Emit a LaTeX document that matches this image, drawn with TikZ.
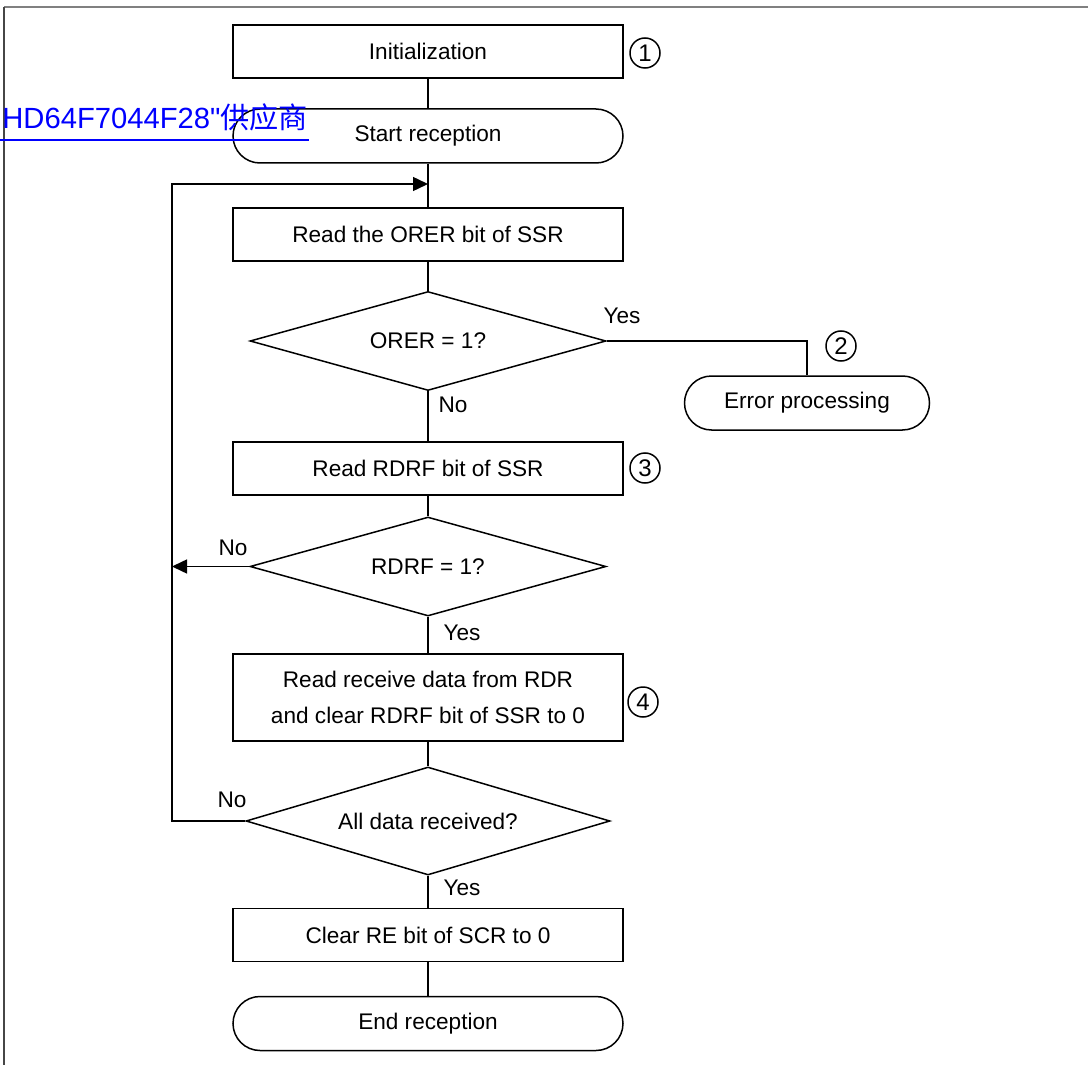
\documentclass[tikz,border=0pt]{standalone}
\usepackage{fontspec}
\setmainfont{Liberation Sans}
\newfontfamily\linkfont{Liberation Sans}
\newfontfamily\cjk{Noto Sans CJK SC}
\usepackage{tikz}
\usetikzlibrary{positioning,arrows.meta,calc,shapes.geometric}
\usepackage{xcolor}
\definecolor{linkblue}{RGB}{0,0,255}
\definecolor{framegray}{RGB}{128,128,128}
\definecolor{edgegray}{RGB}{70,70,70}

\begin{document}
\begin{tikzpicture}[
    x=0.5pt, y=-0.5pt,
    font=\fontsize{11.3}{18}\selectfont,
    flow/.style={draw, line width=0.75pt},
    arr/.style={flow, -{Triangle[length=7.5pt, width=7pt]}},
    procnode/.style={draw, rectangle, line width=0.75pt, align=center, minimum width=195pt, minimum height=26.5pt, inner sep=2pt},
    termnode/.style={procnode, rounded corners=13.5pt, minimum height=27pt},
    decnode/.style={draw, diamond, aspect=3.6, line width=0.75pt, inner sep=0pt, align=center, minimum width=178pt, minimum height=49.5pt},
    stepnum/.style={draw, circle, line width=0.75pt, inner sep=0pt, minimum size=15pt, font=\fontsize{12}{12}\selectfont},
    lbl/.style={inner sep=0pt}
]
\useasboundingbox (0,0) rectangle (1088,1065);

% frame
\draw[framegray, line width=1pt] (4,7) -- (1088,7);
\draw[edgegray, line width=0.75pt] (4,7) -- (4,1065);

% main flow
\node[procnode] (init) at (428,51.5) {Initialization};
\node[termnode] (start) at (428,136) {Start reception};
\node[procnode] (rdorer) at (428,234.5) {Read the ORER bit of SSR};
\node[decnode] (dorer) at (428,341) {ORER = 1?};
\node[termnode, minimum width=122.5pt] (err) at (807,403) {Error processing};
\node[procnode] (rdrdrf) at (428,468.5) {Read RDRF bit of SSR};
\node[decnode] (drdrf) at (428,566.5) {RDRF = 1?};
\node[procnode, minimum height=43.5pt] (rddata) at (428,697.5) {Read receive data from RDR\\and clear RDRF bit of SSR to 0};
\node[decnode, aspect=3.4, minimum width=182pt, minimum height=54pt] (dall) at (428,821) {All data received?};
\node[procnode] (clrre) at (428,935) {Clear RE bit of SCR to 0};
\node[termnode] (endr) at (428,1023.5) {End reception};

% step numbers
\node[stepnum] (s1) at (645,53) {1};
\node[stepnum] (s2) at (841,346) {2};
\node[stepnum] (s3) at (645,468) {3};
\node[stepnum] (s4) at (643,702) {4};

% branch labels
\node[lbl] (yes1) at (622,316) {Yes};
\node[lbl] (no1) at (453,405) {No};
\node[lbl] (no2) at (233,548) {No};
\node[lbl] (yes2) at (462,633) {Yes};
\node[lbl] (no3) at (232,800) {No};
\node[lbl] (yes3) at (462,888) {Yes};

% connectors
\coordinate (jn) at (428,184);
\coordinate (lp) at (172,184);
\draw[flow] (init) -- (start);
\draw[flow] (start) -- (rdorer);
\draw[flow] (rdorer) -- (dorer);
\draw[flow] (dorer.east) -| (err.north);
\draw[flow] (dorer) -- (rdrdrf);
\draw[flow] (rdrdrf) -- (drdrf);
\draw[arr] (drdrf.west) -- (drdrf.west -| lp);
\draw[flow] (drdrf) -- (rddata);
\draw[flow] (rddata) -- (dall);
\draw[arr] (dall.west) -| (lp) -- (jn);
\draw[flow] (dall) -- (clrre);
\draw[flow] (clrre) -- (endr);

% link text
\node[lbl, anchor=base west, text=linkblue, font=\linkfont\fontsize{14.6}{18}\selectfont] (link) at (2,129) {HD64F7044F28"{\cjk 供应商}};
\draw[linkblue, line width=1pt] ([yshift=-5.5pt]link.base west) ++(-2,0) -- ([yshift=-5.5pt]link.base east);
\end{tikzpicture}
\end{document}
